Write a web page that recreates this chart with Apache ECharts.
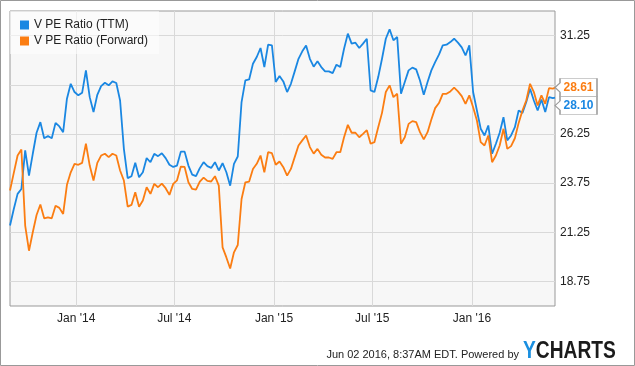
<!DOCTYPE html>
<html>
<head>
<meta charset="utf-8">
<script src="https://cdn.jsdelivr.net/npm/echarts@6/dist/echarts.min.js"></script>
<style>html,body{margin:0;padding:0;background:#fff;}#chart{width:635px;height:366px;}</style>
</head>
<body>
<div id="chart"></div>
<script>
// Weekly samples starting 2013-09-01, plus the final reading on 2016-06-02
const seriesNames = ['V PE Ratio (TTM)', 'V PE Ratio (Forward)'];
const peTTM = [
  21.59, 22.43, 23.20, 23.45, 25.41, 24.13, 25.24, 26.31, 26.85, 26.03,
  26.14, 26.03, 26.81, 26.63, 26.34, 28.04, 28.80, 28.38, 28.21, 28.34,
  29.48, 28.12, 27.36, 28.24, 28.68, 28.85, 28.72, 28.92, 28.84, 27.95,
  25.49, 24.00, 24.10, 24.78, 24.05, 24.30, 25.02, 24.81, 25.24, 25.12,
  25.27, 25.02, 24.68, 24.57, 24.64, 25.35, 25.35, 24.64, 24.18, 24.10,
  24.51, 24.81, 24.61, 24.52, 24.81, 24.39, 24.76, 24.30, 23.62, 24.73,
  25.10, 27.87, 28.97, 29.02, 29.82, 30.16, 30.62, 29.65, 30.79, 30.75,
  28.89, 29.19, 28.92, 28.38, 28.80, 29.43, 30.07, 30.45, 30.75, 30.07,
  29.67, 29.94, 29.65, 29.43, 29.43, 29.34, 29.77, 29.65, 30.58, 31.35,
  30.84, 30.89, 30.62, 30.84, 31.09, 28.46, 28.38, 29.14, 30.07, 31.09,
  31.57, 31.01, 31.18, 28.29, 28.89, 29.48, 29.62, 29.53, 28.97, 28.24,
  28.89, 29.48, 29.90, 30.28, 30.75, 30.79, 30.92, 31.09, 30.89, 30.65,
  30.24, 30.75, 28.38, 27.44, 26.51, 26.17, 26.68, 25.24, 25.75, 26.31,
  27.10, 25.92, 26.17, 26.59, 27.44, 27.32, 27.87, 28.55, 27.95, 27.44,
  28.00, 27.36, 28.12, 28.07, 28.10
];
const peForward = [
  23.37, 24.27, 25.15, 25.46, 21.59, 20.31, 21.25, 22.13, 22.66, 21.96,
  22.01, 21.96, 22.60, 22.49, 22.18, 23.66, 24.30, 24.73, 24.68, 24.78,
  25.75, 24.64, 23.88, 24.78, 25.15, 25.24, 25.07, 25.24, 25.15, 24.39,
  23.88, 22.55, 22.64, 23.28, 22.55, 22.86, 23.54, 23.20, 23.71, 23.54,
  23.72, 23.49, 23.15, 23.71, 23.89, 24.59, 24.57, 23.79, 23.45, 23.42,
  23.83, 24.03, 23.86, 23.83, 24.10, 23.62, 20.48, 19.97, 19.41, 20.23,
  20.60, 22.94, 23.79, 23.83, 24.47, 24.73, 25.15, 24.30, 25.32, 25.27,
  24.68, 24.85, 24.56, 24.13, 24.47, 25.07, 25.66, 25.92, 26.17, 25.58,
  25.25, 25.49, 25.19, 25.05, 25.05, 24.98, 25.32, 25.32, 26.08, 26.71,
  26.31, 26.31, 26.08, 26.25, 26.44, 25.75, 25.83, 26.59, 27.32, 28.38,
  28.72, 28.12, 28.29, 25.75, 26.08, 26.76, 26.90, 26.85, 26.34, 25.97,
  26.34, 26.98, 27.56, 27.82, 28.29, 28.29, 28.41, 28.60, 28.41, 28.17,
  27.78, 28.21, 27.61, 26.93, 25.83, 25.66, 26.17, 24.81, 25.15, 25.66,
  26.51, 25.49, 25.63, 26.03, 26.81, 27.44, 27.95, 28.80, 28.38, 27.70,
  28.21, 27.78, 28.58, 28.55, 28.61
];
const startDate = [2013, 8, 1];
const endDate = [2016, 5, 2];
const xTickDates = [[2014, 0, 1], [2014, 6, 1], [2015, 0, 1], [2015, 6, 1], [2016, 0, 1]];
const xTickLabels = ["Jan '14", "Jul '14", "Jan '15", "Jul '15", "Jan '16"];
const yGridValues = [18.75, 21.25, 23.75, 26.25, 28.75, 31.25];
const yLabelValues = [18.75, 21.25, 23.75, 26.25, 31.25];
const colors = ['#1a87e2', '#fb7d12'];

// build the weekly date axis values
const dates = [];
for (let k = 0; k < peTTM.length - 1; k++) {
  dates.push(new Date(startDate[0], startDate[1], startDate[2] + 7 * k).getTime());
}
dates.push(new Date(endDate[0], endDate[1], endDate[2]).getTime());
const tickTimes = xTickDates.map(d => new Date(d[0], d[1], d[2]).getTime());
const labelByTime = {};
tickTimes.forEach((t, i) => { labelByTime[t] = xTickLabels[i]; });

const font = '"Liberation Sans", Arial, sans-serif';
const callout = 'path://M0,9L5,4.5L5,0L42,0L42,18L5,18L5,13.5Z';

function makeSeries(name, values, color, offsetY) {
  const last = values.length - 1;
  return {
    name: name,
    type: 'line',
    data: values.map((v, i) => [dates[i], v]),
    showSymbol: false,
    symbol: 'none',
    lineStyle: { width: 1.8, color: color },
    itemStyle: { color: color },
    emphasis: { disabled: true },
    animation: false,
    markPoint: {
      silent: true,
      animation: false,
      symbol: callout,
      symbolSize: [42, 18],
      symbolKeepAspect: false,
      symbolOffset: [21, offsetY],
      itemStyle: { color: '#fff', borderColor: '#999', borderWidth: 1 },
      label: {
        show: true, position: 'inside', offset: [2.5, 0],
        color: color, fontWeight: 'bold', fontSize: 12, fontFamily: font,
        formatter: p => Number(p.value).toFixed(2)
      },
      data: [{ coord: [dates[last], values[last]], value: values[last] }]
    }
  };
}

const chart = echarts.init(document.getElementById('chart'), null, { renderer: 'canvas' });
chart.setOption({
  animation: false,
  textStyle: { fontFamily: font },
  grid: {
    left: 10, top: 11, right: 80, bottom: 60,
    show: true, backgroundColor: '#f7f7f7', borderColor: '#999', borderWidth: 1,
    outerBoundsMode: 'none'
  },
  legend: {
    orient: 'vertical', left: 10, top: 11,
    padding: [8, 11, 7, 10], itemGap: 4,
    itemWidth: 9, itemHeight: 9, icon: 'rect',
    backgroundColor: 'rgba(255,255,255,0.55)',
    textStyle: { fontSize: 12, color: '#222', fontFamily: font },
    data: seriesNames,
    selectedMode: false
  },
  xAxis: {
    type: 'value',
    min: new Date(startDate[0], startDate[1], startDate[2]).getTime(),
    max: new Date(endDate[0], endDate[1], endDate[2]).getTime(),
    axisLine: { show: false },
    axisTick: { show: false, customValues: tickTimes },
    axisLabel: {
      customValues: tickTimes, color: '#222', fontSize: 12, margin: 7,
      formatter: v => labelByTime[v] || ''
    },
    splitLine: { show: true, lineStyle: { color: '#d9d9d9', width: 1 } }
  },
  yAxis: {
    type: 'value', position: 'right',
    min: 17.5, max: 32.5,
    axisLine: { show: false },
    axisTick: { show: false, customValues: yGridValues },
    axisLabel: {
      customValues: yLabelValues, color: '#222', fontSize: 12, margin: 5,
      formatter: v => Number(v).toFixed(2)
    },
    splitLine: { show: true, lineStyle: { color: '#d9d9d9', width: 1 } }
  },
  series: [
    makeSeries(seriesNames[0], peTTM, colors[0], 8),
    makeSeries(seriesNames[1], peForward, colors[1], 0)
  ],
  graphic: [
    { type: 'rect', silent: true, z: 100,
      shape: { x: 0.5, y: 0.5, width: 634, height: 365 },
      style: { fill: 'none', stroke: '#999', lineWidth: 1 } },
    { type: 'text', silent: true, x: 519, y: 355,
      style: { text: 'Jun 02 2016, 8:37AM EDT. Powered by', align: 'right', verticalAlign: 'middle',
               font: '11px ' + font, fill: '#222' } },
    { type: 'text', silent: true, x: 523, y: 351, scaleX: 0.8,
      style: { text: '{y|Y}{c|CHARTS}', verticalAlign: 'middle',
               rich: {
                 y: { fill: '#1a8fe0', font: 'bold 24px ' + font, fontWeight: 'bold', fontSize: 24 },
                 c: { fill: '#1b1b1b', font: 'bold 24px ' + font, fontWeight: 'bold', fontSize: 24 }
               } } }
  ]
});
</script>
</body>
</html>
